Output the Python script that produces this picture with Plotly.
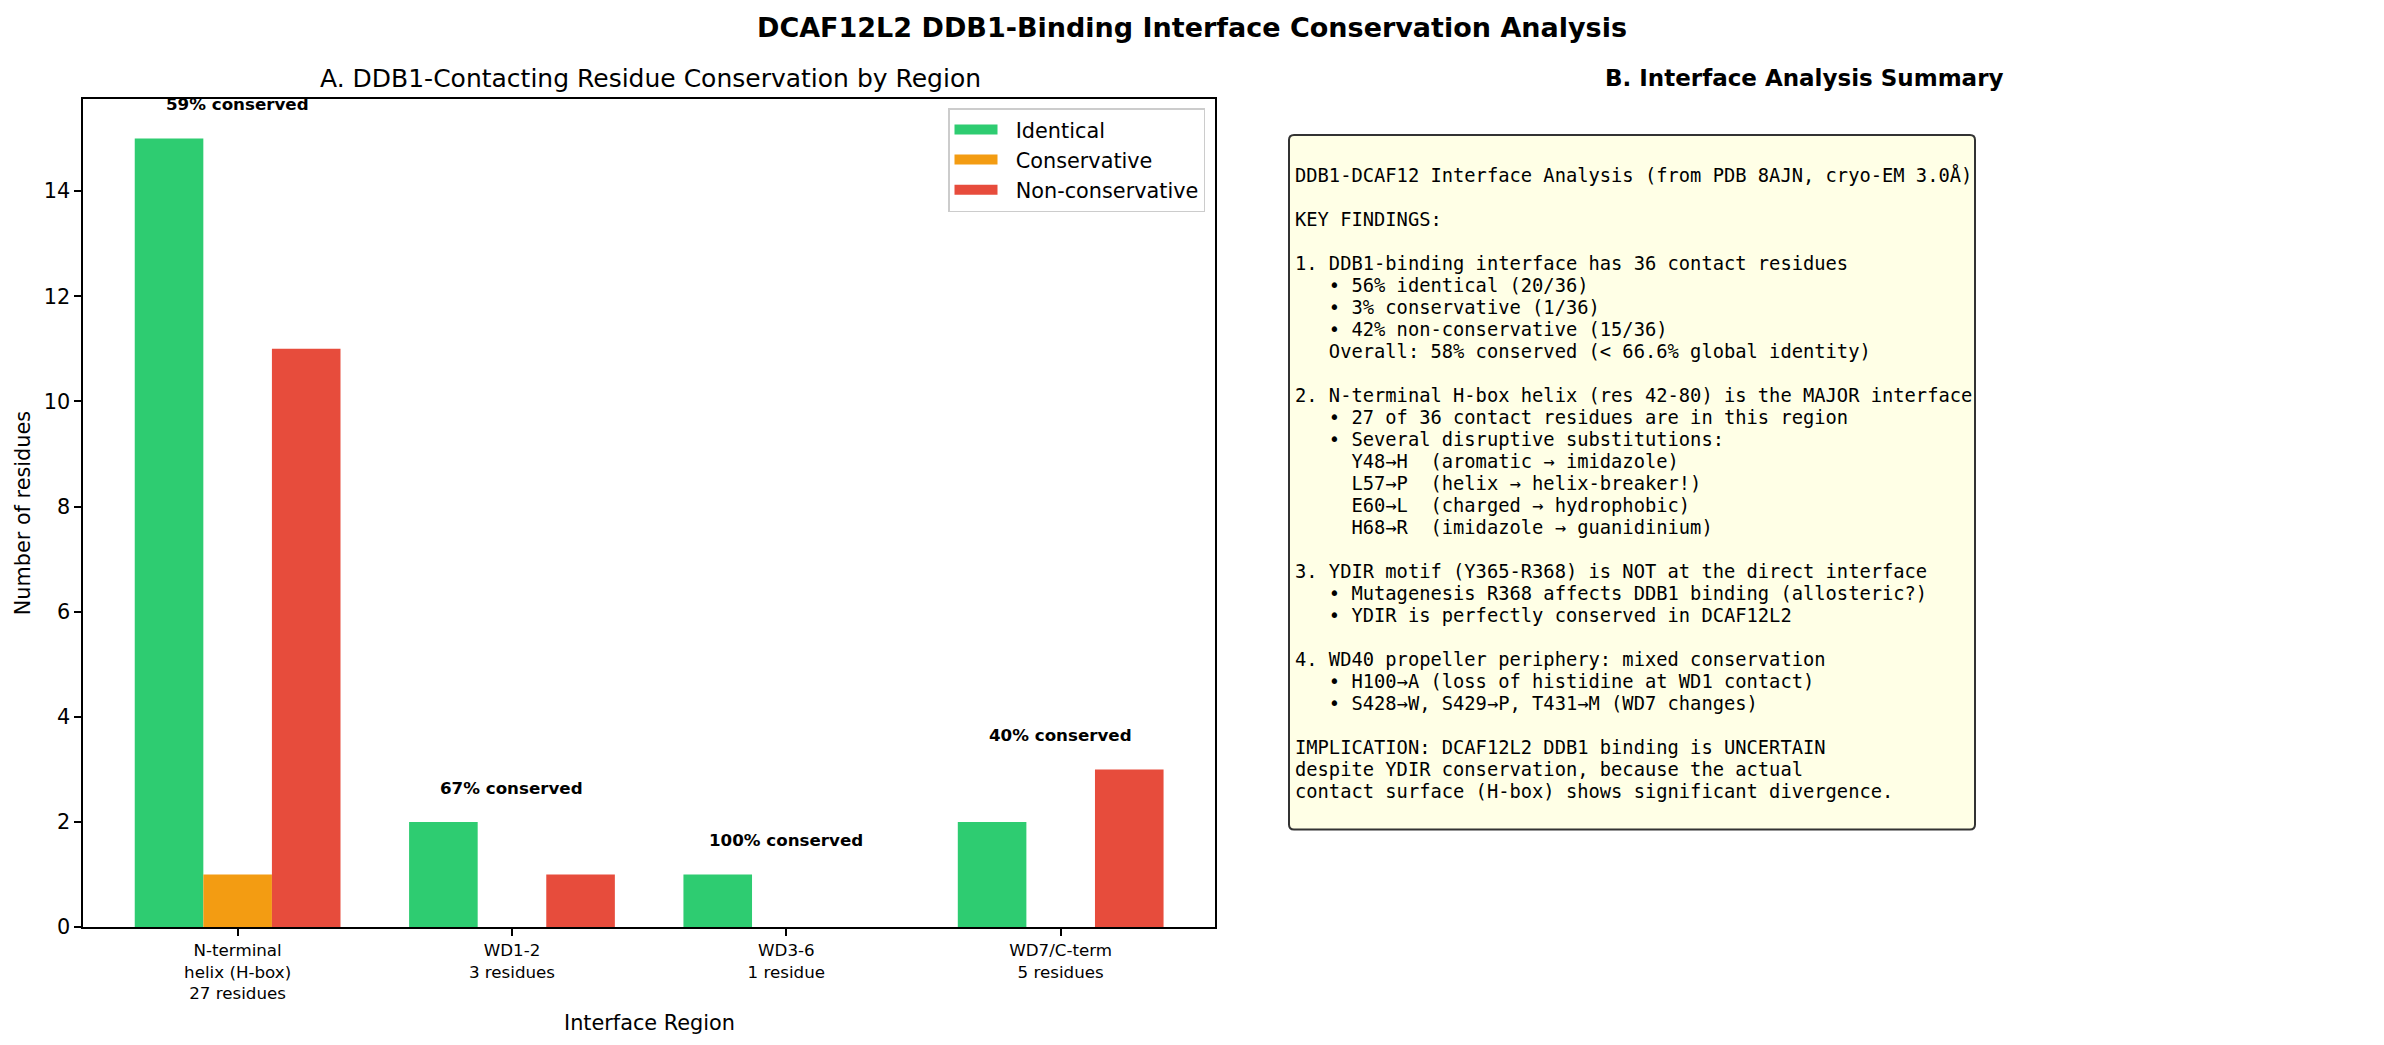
import plotly.graph_objects as go

# chart data
regions = ["N-terminal<br>helix (H-box)<br>27 residues", "WD1-2<br>3 residues",
           "WD3-6<br>1 residue", "WD7/C-term<br>5 residues"]
identical = [15, 2, 1, 2]
conservative = [1, 0, 0, 0]
non_conservative = [11, 1, 0, 3]
conserved_labels = ["59% conserved", "67% conserved", "100% conserved", "40% conserved"]

summary_lines = [
    "DDB1-DCAF12 Interface Analysis (from PDB 8AJN, cryo-EM 3.0Å)",
    "",
    "KEY FINDINGS:",
    "",
    "1. DDB1-binding interface has 36 contact residues",
    "   • 56% identical (20/36)",
    "   • 3% conservative (1/36)",
    "   • 42% non-conservative (15/36)",
    "   Overall: 58% conserved (< 66.6% global identity)",
    "",
    "2. N-terminal H-box helix (res 42-80) is the MAJOR interface",
    "   • 27 of 36 contact residues are in this region",
    "   • Several disruptive substitutions:",
    "     Y48→H  (aromatic → imidazole)",
    "     L57→P  (helix → helix-breaker!)",
    "     E60→L  (charged → hydrophobic)",
    "     H68→R  (imidazole → guanidinium)",
    "",
    "3. YDIR motif (Y365-R368) is NOT at the direct interface",
    "   • Mutagenesis R368 affects DDB1 binding (allosteric?)",
    "   • YDIR is perfectly conserved in DCAF12L2",
    "",
    "4. WD40 propeller periphery: mixed conservation",
    "   • H100→A (loss of histidine at WD1 contact)",
    "   • S428→W, S429→P, T431→M (WD7 changes)",
    "",
    "IMPLICATION: DCAF12L2 DDB1 binding is UNCERTAIN",
    "despite YDIR conservation, because the actual",
    "contact surface (H-box) shows significant divergence.",
]

W, H = 2384, 1045
SY = 1 / 0.988   # the capture comes out slightly squashed vertically
FONT = "DejaVu Sans"

def px_x(p):
    return p / W

def px_y(p):
    return 1 - p * SY / H

fig = go.Figure()
for name, vals, color in [("Identical", identical, "#2ecc71"),
                          ("Conservative", conservative, "#f39c12"),
                          ("Non-conservative", non_conservative, "#e74c3c")]:
    fig.add_trace(go.Bar(x=regions, y=vals, name=name, marker_color=color,
                         marker_line_width=0, legendgroup=name, showlegend=False))
    # legend-only entry so the key shows a wide patch like the original
    fig.add_trace(go.Scatter(x=[None], y=[None], mode="lines", name="\u00a0\u00a0" + name,
                             legendgroup=name, line=dict(color=color, width=14)))

annotations = []
# percent conserved above each group
for i, lab in enumerate(conserved_labels):
    top = max(identical[i], conservative[i], non_conservative[i]) + 0.5
    annotations.append(dict(x=i, y=top, xref="x", yref="y", text="<b>" + lab + "</b>",
                            showarrow=False, yanchor="bottom", xanchor="center", yshift=-4,
                            font=dict(family=FONT, size=16.7, color="black")))

# titles
annotations.append(dict(x=px_x(650), y=px_y(78), xref="paper", yref="paper",
                        text="A. DDB1-Contacting Residue Conservation by Region",
                        showarrow=False, xanchor="center", yanchor="middle",
                        font=dict(family=FONT, size=25, color="black")))
annotations.append(dict(x=px_x(1804), y=px_y(78), xref="paper", yref="paper",
                        text="<b>B. Interface Analysis Summary</b>",
                        showarrow=False, xanchor="center", yanchor="middle",
                        font=dict(family=FONT, size=23, color="black")))
# axis titles
annotations.append(dict(x=px_x(649), y=px_y(1022), xref="paper", yref="paper",
                        text="Interface Region", showarrow=False,
                        xanchor="center", yanchor="middle",
                        font=dict(family=FONT, size=20.8, color="black")))
annotations.append(dict(x=px_x(23), y=px_y(513), xref="paper", yref="paper",
                        text="Number of residues", showarrow=False, textangle=-90,
                        xanchor="center", yanchor="middle",
                        font=dict(family=FONT, size=20.8, color="black")))

# summary text, one annotation per line
for i, line in enumerate(summary_lines):
    if not line:
        continue
    annotations.append(dict(x=px_x(1293), y=px_y(175 + 22.0 * i), xref="paper", yref="paper",
                            text=line.replace(" ", "\u00a0"), showarrow=False,
                            xanchor="left", yanchor="middle", align="left",
                            font=dict(family="DejaVu Sans Mono", size=18.75, color="black")))

# rounded box behind the summary
x0, y0, x1, y1, r = 1289, 135, 1975, 829, 5
path = (f"M {px_x(x0 + r)} {px_y(y0)} L {px_x(x1 - r)} {px_y(y0)} "
        f"Q {px_x(x1)} {px_y(y0)} {px_x(x1)} {px_y(y0 + r)} "
        f"L {px_x(x1)} {px_y(y1 - r)} Q {px_x(x1)} {px_y(y1)} {px_x(x1 - r)} {px_y(y1)} "
        f"L {px_x(x0 + r)} {px_y(y1)} Q {px_x(x0)} {px_y(y1)} {px_x(x0)} {px_y(y1 - r)} "
        f"L {px_x(x0)} {px_y(y0 + r)} Q {px_x(x0)} {px_y(y0)} {px_x(x0 + r)} {px_y(y0)} Z")

fig.update_layout(
    width=W, height=H,
    margin=dict(l=0, r=0, t=0, b=0),
    paper_bgcolor="white", plot_bgcolor="white",
    barmode="group", bargap=0.25, bargroupgap=0,
    font=dict(family=FONT, color="black"),
    title=dict(text="<b>DCAF12L2 DDB1-Binding Interface Conservation Analysis</b>",
               x=px_x(1192), y=px_y(27.5), xanchor="center", yanchor="middle",
               font=dict(family=FONT, size=27, color="black")),
    xaxis=dict(domain=[px_x(83.3), px_x(1215)], range=[-0.5625, 3.5625],
               showline=True, mirror=True, linecolor="black", linewidth=1.7,
               ticks="outside", ticklen=7, tickwidth=1.7, tickcolor="black",
               showgrid=False, zeroline=False,
               tickfont=dict(family=FONT, size=16.7, color="black")),
    yaxis=dict(domain=[px_y(926.7), px_y(99)], range=[0, 15.75], dtick=2,
               showline=True, mirror=True, linecolor="black", linewidth=1.7,
               ticks="outside", ticklen=7, tickwidth=1.7, tickcolor="black",
               showgrid=False, zeroline=False,
               tickfont=dict(family=FONT, size=20.8, color="black")),
    legend=dict(x=px_x(1205), y=px_y(108), xanchor="right", yanchor="top",
                bordercolor="#cccccc", borderwidth=1.5, bgcolor="rgba(255,255,255,0.8)",
                itemwidth=43, tracegroupgap=0,
                font=dict(family=FONT, size=20.8, color="black")),
    annotations=annotations,
    shapes=[dict(type="path", path=path, xref="paper", yref="paper",
                 fillcolor="rgba(255,255,224,0.8)", line=dict(color="#333333", width=2),
                 layer="below")],
)

# drop the default page margin so the figure sits at the window corner
fig.write_html("out.html", config={"displayModeBar": False},
               post_script="document.body.style.margin = '0';")
